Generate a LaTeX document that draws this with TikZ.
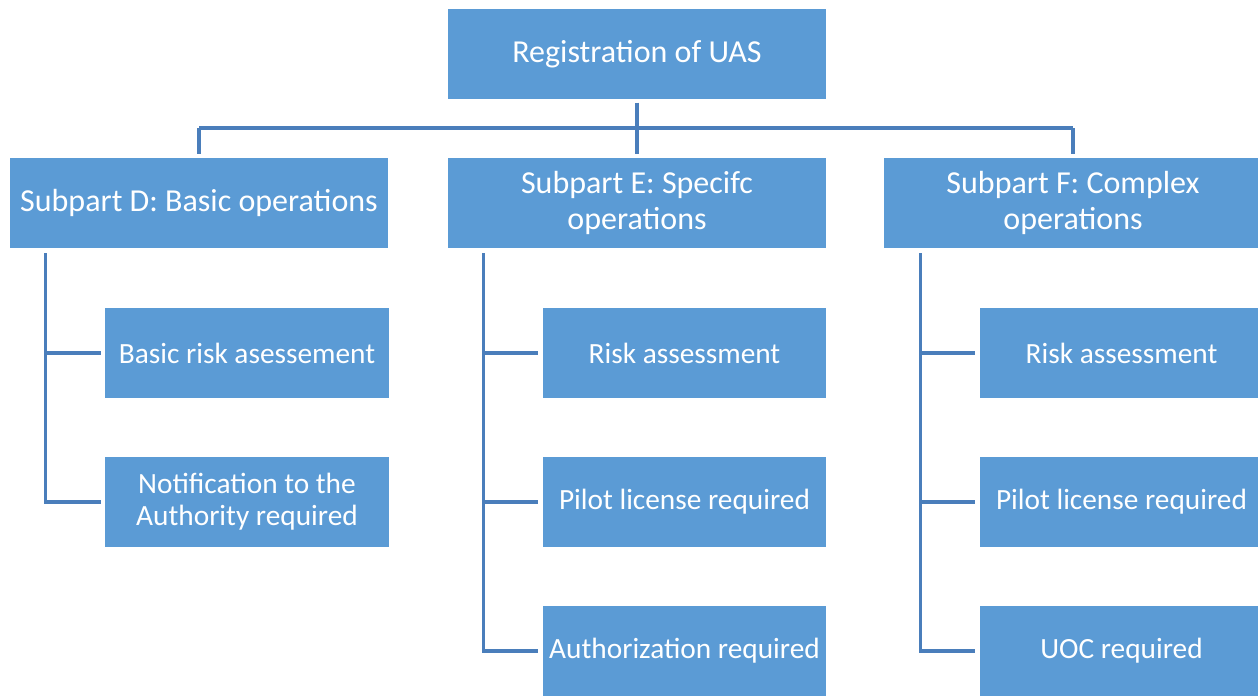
\documentclass[tikz,border=0pt]{standalone}
\usepackage{fontspec}
\setmainfont{Carlito}
\definecolor{boxfill}{HTML}{5B9BD5}
\definecolor{linkline}{HTML}{4A7EBB}
\begin{document}
\begin{tikzpicture}[x=0.75pt,y=-0.75pt,
  box/.style={draw=white,line width=1pt,fill=boxfill,text=white,align=center,
    inner sep=0pt,minimum height=92*0.75pt},
  bigbox/.style={box,minimum width=380*0.75pt,
    font=\fontsize{24}{26.5}\selectfont},
  smallbox/.style={box,minimum width=285*0.75pt,
    font=\fontsize{22}{24}\selectfont},
  conn/.style={draw=linkline,line width=2.3pt,line cap=butt}]
\useasboundingbox (0,0) rectangle (1258,697);

% level 1
\node[bigbox] (top) at (637,54) {Registration of UAS};

% level 2
\node[bigbox] (D) at (199,203) {Subpart D: Basic operations};
\node[bigbox] (E) at (637,203) {Subpart E: Specifc\\operations};
\node[bigbox] (F) at (1073,203) {Subpart F: Complex\\operations};

% level 3
\node[smallbox] (D1) at (247,353) {Basic risk asessement};
\node[smallbox] (D2) at (247,502) {Notification to the\\Authority required};
\node[smallbox] (E1) at (684.5,353) {Risk assessment};
\node[smallbox] (E2) at (684.5,502) {Pilot license required};
\node[smallbox] (E3) at (684.5,651) {Authorization required};
\node[smallbox] (F1) at (1121.5,353) {Risk assessment};
\node[smallbox] (F2) at (1121.5,502) {Pilot license required};
\node[smallbox] (F3) at (1121.5,651) {UOC required};

% bus between level 1 and level 2
\coordinate (bus) at (637,128);
\draw[conn,shorten <=1.5pt] (top.south) -- (bus);
\draw[conn] (D.north |- bus) -- (F.north |- bus);
\draw[conn,shorten >=1.5pt] (D.north |- bus) -- (D.north);
\draw[conn,shorten >=1.5pt] (E.north |- bus) -- (E.north);
\draw[conn,shorten >=1.5pt] (F.north |- bus) -- (F.north);

% spines of the subparts
\coordinate (sD) at ([xshift=37*0.75pt]D.south west);
\coordinate (sE) at ([xshift=37*0.75pt]E.south west);
\coordinate (sF) at ([xshift=38*0.75pt]F.south west);
\draw[conn,shorten <=2.5pt,shorten >=2.5pt] (sD) |- (D2.west);
\draw[conn,shorten >=2.5pt] (sD |- D1.west) -- (D1.west);
\draw[conn,shorten <=2.5pt,shorten >=2.5pt] (sE) |- (E3.west);
\draw[conn,shorten >=2.5pt] (sE |- E1.west) -- (E1.west);
\draw[conn,shorten >=2.5pt] (sE |- E2.west) -- (E2.west);
\draw[conn,shorten <=2.5pt,shorten >=2.5pt] (sF) |- (F3.west);
\draw[conn,shorten >=2.5pt] (sF |- F1.west) -- (F1.west);
\draw[conn,shorten >=2.5pt] (sF |- F2.west) -- (F2.west);
\end{tikzpicture}
\end{document}
